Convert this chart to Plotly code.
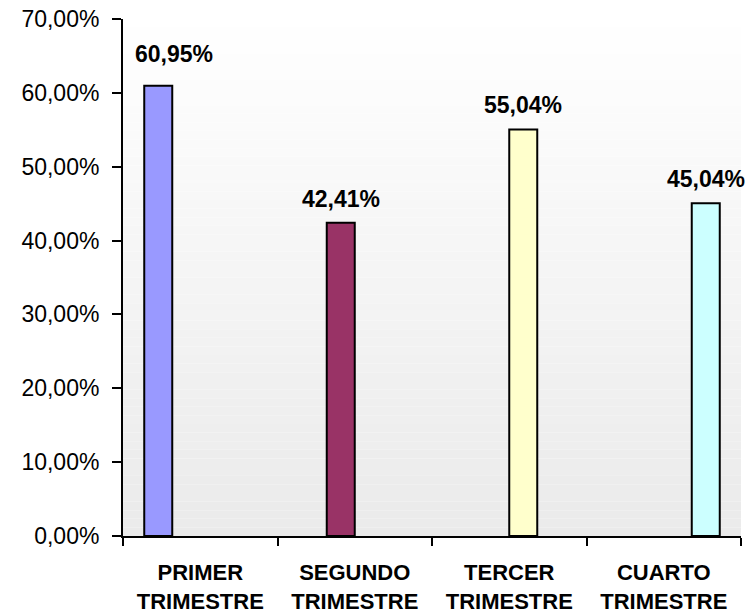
import plotly.graph_objects as go

categories = ["PRIMER<br>TRIMESTRE", "SEGUNDO<br>TRIMESTRE", "TERCER<br>TRIMESTRE", "CUARTO<br>TRIMESTRE"]
values = [60.95, 42.41, 55.04, 45.04]
value_labels = ["60,95%", "42,41%", "55,04%", "45,04%"]
colors = ["#9999FF", "#993366", "#FFFFCC", "#CCFFFF"]
ytick_vals = [0, 10, 20, 30, 40, 50, 60, 70]
ytick_text = ["0,00%", "10,00%", "20,00%", "30,00%", "40,00%", "50,00%", "60,00%", "70,00%"]

FONT = "Liberation Sans, Arial, sans-serif"
BARGAP = 0.275
n = len(categories)
slot = (1 - BARGAP) / n

fig = go.Figure()
for i in range(n):
    fig.add_trace(go.Bar(
        x=[categories[i]], y=[values[i]],
        width=slot, offset=-(1 - BARGAP) / 2 + i * slot,
        marker=dict(color=colors[i], line=dict(color="black", width=2)),
        showlegend=False, hoverinfo="skip",
    ))

# background gradient (white at top to light grey at bottom)
steps = 60
shapes = []
for k in range(steps):
    t = (k + 0.5) / steps
    g = int(round(255 - (255 - 234) * t))
    shapes.append(dict(type="rect", xref="paper", yref="paper",
                       x0=0, x1=1, y0=1 - (k + 1) / steps, y1=1 - k / steps,
                       fillcolor=f"rgb({g},{g},{g})", line=dict(width=0), layer="below"))

annotations = []
for i in range(n):
    xpos = i + (i - (n - 1) / 2) * slot
    annotations.append(dict(
        x=xpos, y=values[i], xref="x", yref="y", text=f"<b>{value_labels[i]}</b>",
        showarrow=False, yanchor="bottom",
        yshift=17 if i == 0 else 9, xshift=16 if i == 0 else 0,
        font=dict(family=FONT, size=23, color="black"),
    ))

fig.update_layout(
    width=750, height=613,
    margin=dict(l=123, r=9, t=19, b=77),
    paper_bgcolor="white", plot_bgcolor="rgba(0,0,0,0)",
    barmode="overlay",
    shapes=shapes, annotations=annotations,
    font=dict(family=FONT, size=23, color="black"),
)
fig.update_xaxes(
    type="category", range=[-0.5, n - 0.5], automargin=False,
    showline=True, linecolor="black", linewidth=2,
    ticks="outside", tickson="boundaries", ticklen=8, tickcolor="black", tickwidth=1.5,
    tickfont=dict(family=FONT, size=22, color="black", weight="bold"),
    ticklabelstandoff=16,
    showgrid=False, zeroline=False, fixedrange=True,
)
fig.update_yaxes(
    range=[0, 70], tickvals=ytick_vals, ticktext=ytick_text, automargin=False,
    showline=True, linecolor="black", linewidth=2,
    ticks="outside", ticklen=9, tickcolor="black", tickwidth=1.5,
    tickfont=dict(family=FONT, size=23, color="black"),
    ticklabelstandoff=8,
    showgrid=False, zeroline=False, fixedrange=True,
)

fig.write_html("out.html", config={"displayModeBar": False},
               post_script="document.body.style.margin='0';document.body.style.overflow='hidden';")
